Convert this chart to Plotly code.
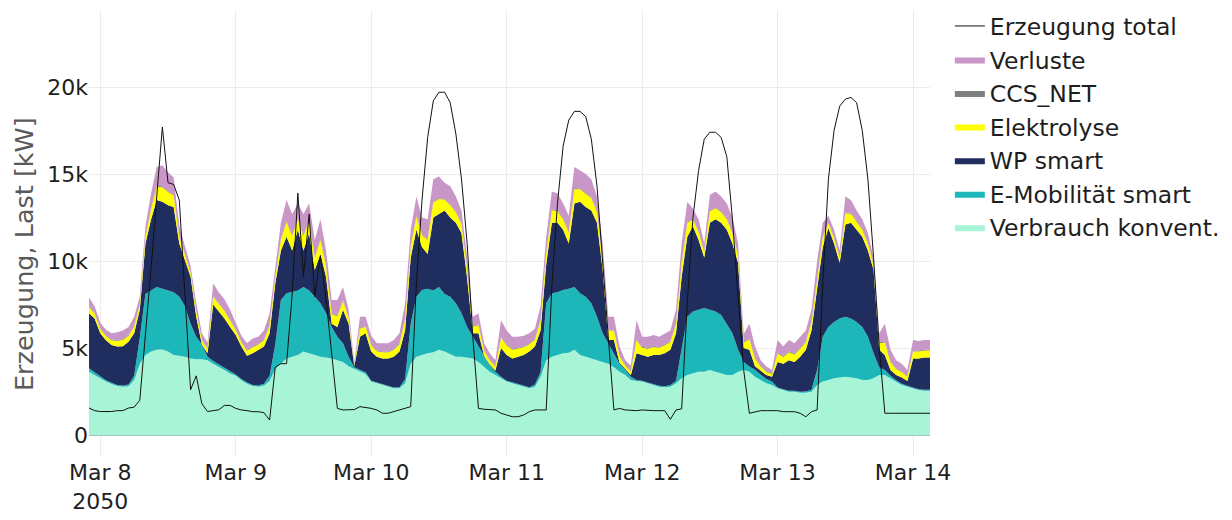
import pandas as pd
import plotly.graph_objects as go

# hourly values in kW, 2050-03-07 22:00 ... 2050-03-14 03:00
verbrauch = [
    3640, 3450, 3260, 3070, 2930, 2820, 2780, 2800, 3160, 4100, 4600, 4800, 4900, 4920, 4800, 4600, 4550, 4500, 4400, 4350, 4350, 4300, 4100, 3930, 3740, 3540,
    3400, 3150, 2950, 2820, 2780, 2850, 3100, 3800, 4100, 4400, 4500, 4600, 4800, 4700, 4600, 4500, 4450, 4400, 4300, 4200, 3950, 3800, 3640, 3500,
    3070, 2970, 2870, 2780, 2680, 2680, 2970, 4100, 4500, 4600, 4700, 4750, 4900, 4800, 4650, 4500, 4500, 4450, 4400, 4200, 3900, 3640, 3450, 3260,
    3070, 2970, 2870, 2780, 2680, 2780, 3350, 4300, 4500, 4600, 4700, 4730, 4900, 4600, 4500, 4400, 4300, 4200, 4100, 3900, 3640, 3450, 3160, 3100,
    3070, 2970, 2870, 2780, 2740, 2780, 2970, 3260, 3450, 3540, 3640, 3640, 3740, 3640, 3540, 3450, 3450, 3640, 3740, 3640, 3350, 3160, 2970, 2870,
    2680, 2580, 2490, 2490, 2430, 2430, 2490, 2870, 3070, 3160, 3260, 3300, 3350, 3300, 3260, 3160, 3160, 3260, 3450, 3450, 3260, 3070, 2870, 2780, 2680, 2580, 2550, 2550,
]
emob = [
    190, 150, 100, 80, 70, 60, 60, 100, 240, 1500, 3500, 3500, 3600, 3480, 3500, 3600, 3400, 2900, 2000, 1300, 850, 200, 150, 120, 110, 110,
    80, 70, 70, 60, 60, 100, 300, 1400, 3660, 3740, 3700, 3700, 3700, 3600, 3350, 3070, 2550, 1800, 1350, 1070, 550, 100, 110, 100,
    50, 50, 50, 50, 50, 70, 230, 2300, 3450, 3730, 3700, 3550, 3600, 3300, 3300, 3070, 2500, 1750, 1250, 900, 600, 360, 190, 90,
    50, 50, 50, 50, 70, 120, 250, 3270, 3640, 3600, 3630, 3670, 3600, 3540, 3450, 3170, 2500, 1650, 1170, 800, 460, 290, 190, 60,
    50, 50, 50, 50, 60, 100, 130, 1820, 3350, 3560, 3560, 3660, 3460, 3460, 3360, 2950, 2400, 1260, 460, 290, 400, 300, 250, 200,
    50, 50, 50, 50, 50, 70, 110, 870, 2580, 3040, 3240, 3400, 3450, 3400, 3240, 3040, 2490, 1440, 450, 290, 140, 80, 80, 50, 50, 50, 50, 50,
]
wp_smart = [
    3170, 3100, 2490, 2300, 2170, 2200, 2260, 2460, 2450, 1600, 2900, 4100, 5000, 5000, 4900, 4900, 3050, 2700, 2700, 1150, 0, 200, 3250, 3050, 2850, 2550,
    2270, 1860, 1530, 1820, 2060, 2130, 2450, 3500, 2840, 3260, 2400, 3500, 2100, 3300, 1550, 2830, 2100, 200, 550, 1930, 1900, 50, 1900, 2250,
    1680, 1480, 1480, 1570, 1770, 2050, 2800, 3800, 3850, 2470, 2000, 4200, 4200, 4800, 4550, 4630, 4600, 2800, 200, 750, 50, 50, 60, 1650,
    1480, 1380, 1580, 1770, 2050, 2180, 2400, 2230, 4060, 4000, 3470, 2600, 4800, 5260, 5150, 5330, 5400, 3650, 190, 760, 50, 60, 100, 1540,
    1480, 1480, 1680, 1770, 1900, 2020, 2750, 4020, 4600, 4900, 4000, 2900, 5000, 5300, 5300, 5400, 5150, 5000, 800, 970, 200, 240, 230, 280,
    1470, 1470, 1760, 1660, 2020, 2400, 3400, 4660, 5150, 5700, 4500, 3200, 5300, 5500, 5300, 5200, 4950, 4800, 1000, 860, 340, 300, 350, 270, 1670, 1770, 1850, 1850,
]
elektrolyse = [
    360, 280, 240, 240, 270, 330, 360, 340, 380, 300, 400, 600, 760, 840, 760, 680, 400, 280, 240, 320, 260, 240, 480, 440, 440, 400,
    280, 250, 290, 340, 300, 370, 460, 360, 640, 840, 840, 600, 840, 680, 680, 800, 600, 540, 620, 520, 320, 80, 460, 380,
    360, 310, 350, 350, 380, 420, 630, 640, 760, 680, 800, 880, 860, 640, 720, 600, 520, 480, 380, 460, 290, 260, 240, 600,
    560, 500, 460, 440, 420, 410, 560, 640, 720, 680, 600, 640, 840, 720, 760, 720, 600, 600, 540, 540, 370, 200, 220, 760,
    420, 460, 460, 420, 460, 440, 540, 760, 800, 400, 480, 320, 640, 640, 600, 600, 600, 440, 320, 600, 450, 240, 190, 160,
    500, 390, 460, 430, 460, 440, 480, 640, 560, 280, 320, 280, 640, 520, 440, 400, 400, 280, 380, 720, 460, 340, 320, 260, 420, 400, 400, 400,
]
ccs_net = [
    50, 50, 50, 50, 50, 50, 50, 50, 50, 50, 50, 50, 50, 50, 50, 50, 50, 50, 50, 50, 50, 50, 50, 50, 50, 50,
    50, 50, 50, 50, 50, 50, 50, 50, 50, 50, 50, 50, 50, 50, 50, 50, 50, 50, 50, 50, 50, 50, 50, 50,
    50, 50, 50, 50, 50, 50, 50, 50, 50, 50, 50, 50, 50, 50, 50, 50, 50, 50, 50, 50, 50, 50, 50, 50,
    50, 50, 50, 50, 50, 50, 50, 50, 50, 50, 50, 50, 50, 50, 50, 50, 50, 50, 50, 50, 50, 50, 50, 50,
    50, 50, 50, 50, 50, 50, 50, 50, 50, 50, 50, 50, 50, 50, 50, 50, 50, 50, 50, 50, 50, 50, 50, 50,
    50, 50, 50, 50, 50, 50, 50, 50, 50, 50, 50, 50, 50, 50, 50, 50, 50, 50, 50, 50, 50, 50, 50, 50, 50, 50, 50, 50,
]
verluste = [
    490, 370, 310, 310, 360, 440, 490, 450, 520, 400, 550, 850, 1090, 1210, 1090, 970, 550, 370, 310, 430, 340, 310, 670, 610, 610, 550,
    370, 320, 380, 460, 400, 500, 640, 490, 910, 1210, 1210, 850, 1210, 970, 970, 1150, 850, 770, 890, 730, 430, 70, 640, 520,
    490, 410, 470, 470, 530, 580, 890, 910, 1090, 970, 1150, 1270, 1240, 910, 1030, 850, 730, 670, 520, 640, 380, 340, 310, 950,
    790, 700, 640, 610, 580, 560, 790, 910, 1030, 970, 850, 910, 1210, 1030, 1090, 1030, 850, 850, 750, 750, 510, 250, 280, 1090,
    580, 640, 640, 580, 640, 610, 760, 1090, 1150, 550, 670, 430, 910, 910, 850, 850, 850, 610, 430, 850, 630, 310, 240, 180,
    710, 540, 650, 590, 640, 610, 670, 910, 790, 370, 430, 370, 910, 730, 610, 550, 550, 370, 520, 1030, 650, 460, 430, 330, 590, 550, 560, 560,
]
erzeugung_total = [
    1550, 1400, 1350, 1350, 1350, 1400, 1400, 1550, 1600, 2000, 5600, 9600, 13700, 17700, 14500, 14400, 13500, 8000, 2600, 3400, 1800, 1350, 1400, 1450, 1700, 1700,
    1530, 1440, 1400, 1340, 1340, 1280, 860, 3900, 4100, 4100, 8100, 13900, 9100, 12700, 7950, 10300, 7800, 4700, 1530, 1440, 1440, 1460, 1630, 1600,
    1530, 1440, 1250, 1250, 1340, 1440, 1530, 1630, 8700, 13500, 17100, 19200, 19700, 19700, 19100, 17300, 14700, 11000, 5650, 1530, 1480, 1440, 1440, 1250,
    1150, 1050, 1050, 1150, 1340, 1440, 1440, 1440, 8500, 13300, 16600, 18100, 18600, 18600, 18300, 17000, 14300, 10200, 5650, 1440, 1530, 1440, 1400, 1400,
    1440, 1400, 1400, 1400, 1400, 900, 1440, 1500, 7600, 12500, 15200, 17000, 17400, 17400, 17100, 16000, 12400, 7950, 3700, 1250, 1340, 1400, 1400, 1400,
    1400, 1340, 1340, 1340, 1250, 1050, 1340, 1440, 8700, 14700, 17500, 18900, 19300, 19400, 19100, 17500, 14700, 10200, 5100, 1250, 1250, 1250, 1250, 1250, 1250, 1250, 1250, 1250,
]
y_title = "Erzeugung, Last [kW]"

times = pd.date_range("2050-03-07 22:00", periods=len(verbrauch), freq="h")

stack = [
    ("Verbrauch konvent.", verbrauch, "#A8F4D6"),
    ("E-Mobilität smart", emob, "#1EB7B9"),
    ("WP smart", wp_smart, "#1F2E5E"),
    ("Elektrolyse", elektrolyse, "#FFFF00"),
    ("CCS_NET", ccs_net, "#808080"),
    ("Verluste", verluste, "#C996C8"),
]

fig = go.Figure()
for name, vals, col in stack:
    fig.add_trace(go.Scatter(
        x=times, y=vals, name=name, mode="lines", stackgroup="one",
        line=dict(width=0, color=col), fillcolor=col,
    ))
fig.add_trace(go.Scatter(
    x=times, y=erzeugung_total, name="Erzeugung total", mode="lines",
    line=dict(color="#111111", width=1),
))

fig.update_layout(
    template="plotly_white",
    width=1232, height=520,
    margin=dict(l=89, r=302, t=10, b=63, autoexpand=False),
    font=dict(family="DejaVu Sans", size=22, color="#1e1e1e"),
    showlegend=True,
    legend=dict(traceorder="reversed", font=dict(size=23.5, color="#1e1e1e"),
                x=1.0236, y=1.013, xanchor="left", yanchor="top"),
    xaxis=dict(dtick=86400000, tick0="2050-03-08", gridcolor="#ececec",
               showline=False, zeroline=False),
    yaxis=dict(range=[-1264, 24425], dtick=5000, tick0=0, gridcolor="#ececec",
               zeroline=True, zerolinecolor="#a8c4b8", zerolinewidth=2),
    annotations=[dict(text=y_title, textangle=-90, xref="paper", yref="paper",
                      x=-0.0773, y=0.454, xanchor="center", yanchor="middle",
                      showarrow=False, font=dict(size=25.5, color="#5a5a5a"))],
)

fig.write_html("out.html")
